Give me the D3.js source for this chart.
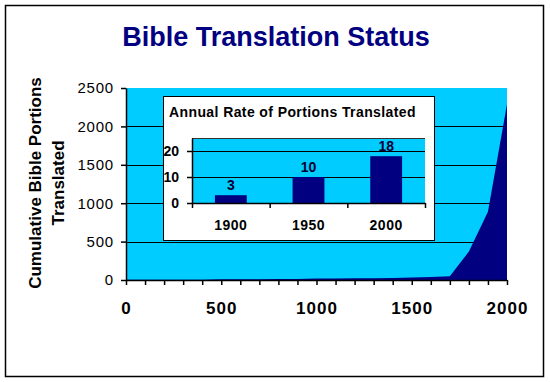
<!DOCTYPE html>
<html>
<head>
<meta charset="utf-8">
<script src="https://cdn.jsdelivr.net/npm/d3@7"></script>
<style>
  body { margin: 0; background: #fff; }
  svg { display: block; font-family: Arial, "Liberation Sans", sans-serif; }
</style>
</head>
<body>
<div class="chart"></div>
<script>
// cumulative portions translated, by century
var years = [0, 100, 200, 300, 400, 500, 600, 700, 800, 900, 1000,
             1100, 1200, 1300, 1400, 1500, 1600, 1700, 1800, 1900, 2000];
var cumulative = [2, 2, 3, 3, 4, 10, 10, 11, 12, 13, 20,
                  21, 22, 23, 25, 33, 40, 50, 370, 890, 2290];
var yTicks = [0, 500, 1000, 1500, 2000, 2500];
var xLabels = [0, 500, 1000, 1500, 2000];

// inset: annual rate
var rateYears = ["1900", "1950", "2000"];
var rateValues = [3, 10, 18];
var rateTicks = [0, 10, 20];

var cyan = "#00ccff", navy = "#000080";

var svg = d3.select(".chart").append("svg")
    .attr("width", 550)
    .attr("height", 382);

// outer frame
svg.append("rect")
    .attr("x", 5.5).attr("y", 5.5)
    .attr("width", 538).attr("height", 371)
    .attr("fill", "#fff").attr("stroke", "#000").attr("stroke-width", 1.5);

svg.append("text")
    .attr("x", 276).attr("y", 46)
    .attr("text-anchor", "middle")
    .style("font-size", "27px").style("font-weight", "bold")
    .attr("fill", navy)
    .text("Bible Translation Status");

// main plot
var plot = {left: 126, right: 507, top: 88, bottom: 280};

var x = d3.scaleLinear().domain([0, 2000]).range([plot.left, plot.right]);
var y = d3.scaleLinear().domain([0, 2500]).range([plot.bottom, plot.top]);

svg.append("rect")
    .attr("x", plot.left).attr("y", plot.top)
    .attr("width", plot.right - plot.left).attr("height", plot.bottom - plot.top)
    .attr("fill", cyan);

svg.append("g").selectAll("line")
    .data(yTicks.filter(function(d) { return d > 0 && d < 2500; }))
    .enter().append("line")
    .attr("x1", plot.left).attr("x2", plot.right)
    .attr("y1", function(d) { return Math.round(y(d)) + 0.5; })
    .attr("y2", function(d) { return Math.round(y(d)) + 0.5; })
    .attr("stroke", "#000").attr("stroke-width", 1);

var area = d3.area()
    .x(function(d, i) { return x(years[i]); })
    .y0(y(0))
    .y1(function(d) { return y(d); });

svg.append("path")
    .datum(cumulative)
    .attr("fill", navy)
    .attr("d", area);

var xAxis = svg.append("g")
    .attr("transform", "translate(0," + plot.bottom + ")")
    .call(d3.axisBottom(x)
        .tickValues(d3.range(0, 2001, 100))
        .tickSize(5)
        .tickSizeOuter(0)
        .tickFormat(function(d) { return xLabels.indexOf(d) >= 0 ? d : ""; }));
xAxis.select(".domain").attr("stroke", "#000").attr("stroke-width", 1.5);
xAxis.selectAll("line").attr("stroke", "#000").attr("stroke-width", 1.5);
xAxis.selectAll("text")
    .attr("y", 22).attr("fill", "#000")
    .style("font-size", "17px").style("font-weight", "bold")
    .style("font-family", "Arial, 'Liberation Sans', sans-serif")
    .style("letter-spacing", "1px");

var yAxis = svg.append("g")
    .attr("transform", "translate(" + plot.left + ",0)")
    .call(d3.axisLeft(y).tickValues(yTicks).tickFormat(d3.format("d"))
        .tickSize(5).tickSizeOuter(0).tickPadding(7));
yAxis.select(".domain").attr("stroke", "#000").attr("stroke-width", 1.5);
yAxis.selectAll("line").attr("stroke", "#000").attr("stroke-width", 1.5);
yAxis.selectAll("text")
    .attr("fill", "#000")
    .style("font-size", "15px")
    .style("font-family", "Arial, 'Liberation Sans', sans-serif")
    .style("letter-spacing", "0.8px");

var yTitle = svg.append("text")
    .attr("transform", "translate(41,183) rotate(-90)")
    .attr("text-anchor", "middle")
    .style("font-size", "17px").style("font-weight", "bold");
yTitle.append("tspan").attr("x", 0).attr("y", 0).text("Cumulative Bible Portions");
yTitle.append("tspan").attr("x", 0).attr("y", 23).text("Translated");

// inset chart
svg.append("rect")
    .attr("x", 163.5).attr("y", 96.5)
    .attr("width", 271).attr("height", 144)
    .attr("fill", "#fff").attr("stroke", "#000").attr("stroke-width", 1);

svg.append("text")
    .attr("x", 169).attr("y", 117)
    .style("font-size", "14px").style("font-weight", "bold")
    .style("letter-spacing", "0.4px")
    .text("Annual Rate of Portions Translated");

var inset = {left: 192, right: 425, top: 138, bottom: 203};

var bx = d3.scaleBand().domain(rateYears)
    .range([inset.left, inset.right])
    .paddingInner(0.59).paddingOuter(0.295);
var bTick = d3.scaleLinear().domain([0, 3]).range([inset.left, inset.right]);
var by = d3.scaleLinear().domain([0, 25]).range([inset.bottom, inset.top]);

svg.append("rect")
    .attr("x", inset.left).attr("y", inset.top)
    .attr("width", inset.right - inset.left).attr("height", inset.bottom - inset.top)
    .attr("fill", cyan);

svg.append("line")
    .attr("x1", inset.left).attr("x2", inset.right)
    .attr("y1", inset.top + 0.5).attr("y2", inset.top + 0.5)
    .attr("stroke", "#333").attr("stroke-width", 1);

svg.append("g").selectAll("line")
    .data(rateTicks.filter(function(d) { return d > 0; }))
    .enter().append("line")
    .attr("x1", inset.left).attr("x2", inset.right)
    .attr("y1", function(d) { return Math.round(by(d)) + 0.5; })
    .attr("y2", function(d) { return Math.round(by(d)) + 0.5; })
    .attr("stroke", "#000");

svg.append("g").selectAll("rect")
    .data(rateValues)
    .enter().append("rect")
    .attr("x", function(d, i) { return bx(rateYears[i]); })
    .attr("width", bx.bandwidth())
    .attr("y", function(d) { return by(d); })
    .attr("height", function(d) { return by(0) - by(d); })
    .attr("fill", navy);

svg.append("g").selectAll("text")
    .data(rateValues)
    .enter().append("text")
    .attr("x", function(d, i) { return bx(rateYears[i]) + bx.bandwidth() / 2; })
    .attr("y", function(d) { return by(d) - 5; })
    .attr("text-anchor", "middle")
    .attr("fill", "#000033")
    .style("font-size", "14px").style("font-weight", "bold")
    .text(function(d) { return d; });

var ixAxis = svg.append("g")
    .attr("transform", "translate(0," + inset.bottom + ")")
    .call(d3.axisBottom(bTick).tickValues([0, 1, 2, 3]).tickSize(5).tickSizeOuter(0).tickFormat(""));
ixAxis.selectAll("line, .domain").attr("stroke", "#000").attr("stroke-width", 1.5);

svg.append("g").selectAll("text")
    .data(rateYears)
    .enter().append("text")
    .attr("x", function(d) { return bx(d) + bx.bandwidth() / 2; })
    .attr("y", 230)
    .attr("text-anchor", "middle")
    .style("font-size", "14px").style("font-weight", "bold")
    .style("letter-spacing", "0.5px")
    .text(function(d) { return d; });

var iyAxis = svg.append("g")
    .attr("transform", "translate(" + inset.left + ",0)")
    .call(d3.axisLeft(by).tickValues(rateTicks).tickSize(5).tickSizeOuter(0).tickPadding(8));
iyAxis.selectAll("line, .domain").attr("stroke", "#000").attr("stroke-width", 1.5);
iyAxis.selectAll("text")
    .attr("fill", "#000")
    .style("font-size", "14px").style("font-weight", "bold")
    .style("font-family", "Arial, 'Liberation Sans', sans-serif");
</script>
</body>
</html>
